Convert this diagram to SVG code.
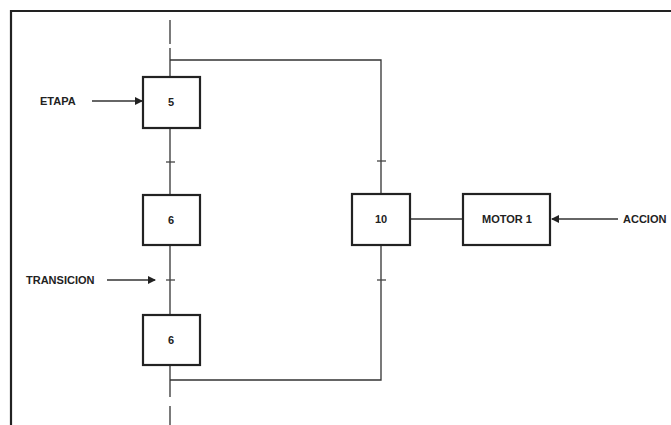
<svg xmlns="http://www.w3.org/2000/svg" width="671" height="425" viewBox="0 0 671 425">
<style>
.box{fill:#fff;stroke:#222;stroke-width:2.2}
.ln{stroke:#333;stroke-width:1.3;fill:none}
.tk{stroke:#444;stroke-width:1.3}
.lbl{font-family:"Liberation Sans",Arial,sans-serif;font-weight:bold;font-size:11px;fill:#222}
.num{font-family:"Liberation Sans",Arial,sans-serif;font-weight:bold;font-size:11px;fill:#222;text-anchor:middle}
</style>
<defs>
<marker id="ah" markerWidth="8" markerHeight="8" refX="7" refY="4" orient="auto" markerUnits="userSpaceOnUse">
<path d="M0,0 L8,4 L0,8 Z" fill="#222"/>
</marker>
</defs>
<rect width="671" height="425" fill="#fff"/>
<g id="frame">
<line x1="10" y1="11" x2="671" y2="11" stroke="#222" stroke-width="2"/>
<line x1="11" y1="10" x2="11" y2="425" stroke="#222" stroke-width="2.2"/>
</g>
<g id="connectors">
<line class="ln" x1="170" y1="20" x2="170" y2="44"/>
<line class="ln" x1="170" y1="48" x2="170" y2="77"/>
<polyline class="ln" points="170,60 381,60 381,193"/>
<line class="ln" x1="170" y1="128" x2="170" y2="195"/>
<line class="ln" x1="170" y1="245" x2="170" y2="315"/>
<line class="ln" x1="170" y1="365" x2="170" y2="397"/>
<line class="ln" x1="170" y1="406" x2="170" y2="425"/>
<polyline class="ln" points="170,380 381,380 381,245"/>
<line class="ln" x1="410" y1="219" x2="463" y2="219"/>
<line class="tk" x1="166" y1="162" x2="175" y2="162"/>
<line class="tk" x1="166" y1="280" x2="175" y2="280"/>
<line class="tk" x1="377" y1="161" x2="386" y2="161"/>
<line class="tk" x1="377" y1="280" x2="386" y2="280"/>
<line class="ln" x1="92" y1="101" x2="142" y2="101" marker-end="url(#ah)"/>
<line class="ln" x1="107" y1="280" x2="155" y2="280" marker-end="url(#ah)"/>
<line class="ln" x1="618" y1="219" x2="552" y2="219" marker-end="url(#ah)"/>
</g>
<g id="step5"><rect class="box" x="143" y="77" width="57" height="51"/><text class="num" x="171" y="106">5</text></g>
<g id="step6a"><rect class="box" x="143" y="195" width="57" height="50"/><text class="num" x="171" y="224">6</text></g>
<g id="step6b"><rect class="box" x="143" y="315" width="57" height="50"/><text class="num" x="171" y="344">6</text></g>
<g id="step10"><rect class="box" x="352" y="194" width="58" height="51"/><text class="num" x="381" y="223">10</text></g>
<g id="motor1"><rect class="box" x="463" y="194" width="87" height="51"/><text class="num" x="507" y="223">MOTOR 1</text></g>
<g id="labels">
<text class="lbl" x="40" y="105">ETAPA</text>
<text class="lbl" x="26" y="284">TRANSICION</text>
<text class="lbl" x="623" y="223">ACCION</text>
</g>
</svg>
